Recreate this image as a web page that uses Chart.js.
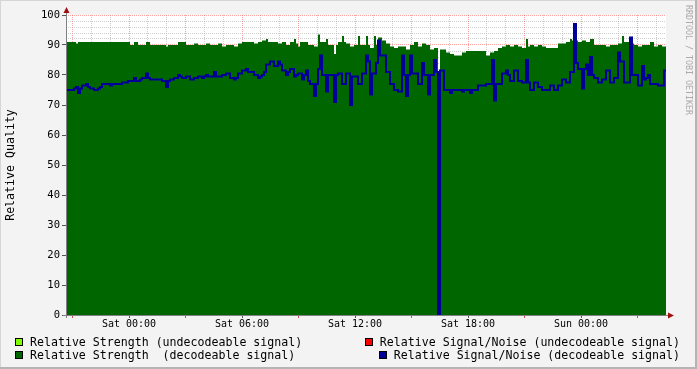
<!DOCTYPE html>
<html>
<head>
<meta charset="utf-8">
<script src="https://cdn.jsdelivr.net/npm/chart.js@4.4.0/dist/chart.umd.min.js"></script>
<style>
body{margin:0;background:#f3f3f3}
#wrap{position:relative;width:697px;height:369px;overflow:hidden}
.leg{position:absolute;display:flex;align-items:center;font:11.6px "DejaVu Sans Mono",monospace;white-space:pre;color:#000;height:14px;line-height:14px}
.sw{display:inline-block;width:6px;height:6px;border:1px solid #000;margin-right:7px}
#credit{position:absolute;left:684px;top:5px;writing-mode:vertical-rl;font:8.3px "DejaVu Sans Mono",monospace;color:#aaa}
</style>
</head>
<body>
<div id="wrap">
  <canvas id="myChart" width="697" height="369"></canvas>
  <div id="credit">RRDTOOL / TOBI OETIKER</div>
  <div class="leg" style="left:15px;top:335px"><span class="sw" style="background:#7fff00"></span>Relative Strength (undecodeable signal)</div>
  <div class="leg" style="left:15px;top:348px"><span class="sw" style="background:#006600"></span>Relative Strength  (decodeable signal)</div>
  <div class="leg" style="right:17px;top:335px"><span class="sw" style="background:#ff0000"></span>Relative Signal/Noise (undecodeable signal)</div>
  <div class="leg" style="right:17px;top:348px"><span class="sw" style="background:#000099"></span>Relative Signal/Noise (decodeable signal)</div>
</div>
<script>
// hours relative to Sat 00:00, one sample every ~6.4 minutes
const startHour = -3.345;
const sampleStep = 0.10619;

// Relative Strength (decodeable signal)
const strength = [
  91, 91, 91, 91, 91, 90.5, 91, 91, 91, 91, 91, 91, 91, 91, 91, 91, 91, 91, 91, 91,
  91, 91, 91, 91, 91, 91, 91, 91, 91, 91, 91, 91, 90, 90, 91, 91, 90, 90, 90, 90,
  91, 91, 90, 90, 90, 90, 90, 90, 90, 90, 89.5, 90, 90, 90, 90, 90, 91, 91, 91, 91,
  90, 90, 90, 90, 90.5, 90.5, 90, 90, 90, 90, 90.5, 90.5, 90, 90, 90, 90, 90.5, 90.5, 89.5, 89.5,
  90, 90, 90, 90, 89.5, 89.5, 90.5, 90.5, 91, 91, 91, 91, 91, 91, 90.5, 90.5, 91, 91, 91.5, 91.5,
  92, 91, 91, 91, 91, 91, 90.5, 90.5, 91, 91, 90, 90, 91, 91, 92, 90.5, 89.5, 91, 91, 91,
  91, 90, 90, 90, 89.5, 89.5, 93.5, 91, 91, 91, 92, 90, 90, 90, 87, 90, 91, 91, 93, 91,
  90.5, 90.5, 89.5, 89.5, 90, 90, 93, 90, 90, 90, 93, 90, 89, 89, 93, 90, 92.5, 92.5, 91.5, 91.5,
  90.5, 90.5, 89.5, 89.5, 89, 89, 89.5, 89.5, 89.5, 89.5, 88.5, 88.5, 90, 90, 91, 91, 89.5, 89.5, 90.5, 90.5,
  90, 90, 88.5, 88.5, 89, 89, 0, 88.5, 88.5, 88.5, 87.5, 87.5, 87, 87, 86.5, 86.5, 86.5, 86.5, 87.5, 87.5,
  88, 88, 88, 88, 88, 88, 88, 88, 88, 88, 86.5, 86.5, 87.5, 87.5, 88, 88, 89, 89, 89.5, 89.5,
  90, 90, 89.5, 89.5, 90, 90, 89.5, 89.5, 89, 89, 92, 89.5, 90, 90, 89.5, 89.5, 90, 90, 89.5, 89.5,
  89, 89, 89, 89, 89, 89, 90.5, 90.5, 90.5, 90.5, 91, 91, 92, 91.5, 91.5, 91.5, 91, 91, 91.5, 91.5,
  91, 91, 92, 92, 90, 90, 90, 90, 90, 90, 89.5, 89.5, 90, 90, 90, 90, 90.5, 90.5, 93, 91,
  91, 91, 90.5, 90.5, 90, 90, 89.5, 89.5, 90, 90, 90, 90, 91, 91, 89.5, 89.5, 90, 90, 89.5, 89.5
];

// Relative Signal/Noise (decodeable signal)
const snr = [
  75, 75, 75, 75, 75.5, 76, 74, 75.5, 76.5, 76.5, 77, 76, 75.5, 75.5, 75, 75, 75.5, 76, 77, 77,
  77, 77, 76.5, 77, 77, 77, 77, 77, 77.5, 77.5, 77.5, 78, 78, 78, 79, 78, 78, 78.5, 79, 79,
  80.5, 79, 78.5, 78.5, 78.5, 78.5, 78.5, 78.5, 78, 78, 76, 78, 78.5, 78.5, 79, 79, 80, 79.5, 79, 79,
  79.5, 79.5, 78.5, 78.5, 79, 79, 79.5, 79.5, 79, 79.5, 80, 79.5, 79.5, 79.5, 81, 79.5, 79.5, 79.5, 80, 80,
  80.5, 80.5, 79, 79, 78.5, 79, 80.5, 80.5, 81.5, 81.5, 82, 81, 81, 81, 80, 80, 79, 79.5, 80, 81,
  83.5, 83.5, 84.5, 84.5, 83, 83, 84.5, 83.5, 81.5, 81.5, 80, 81, 82, 82, 79.5, 80, 80.5, 80.5, 78.5, 80,
  81.5, 78, 77, 77, 73, 77, 82, 86.5, 80, 80, 74.5, 80, 80, 80, 71, 80, 80.5, 80.5, 77, 77,
  80.5, 80.5, 70, 79.5, 79.5, 79.5, 77, 77, 80.5, 80.5, 86.5, 84.5, 73.5, 80.5, 80.5, 84, 91.5, 86.5, 86.5, 86.5,
  81, 81, 77, 77, 75, 75, 74.5, 74.5, 86.5, 80, 73, 80, 86.5, 80.5, 80.5, 80.5, 77, 77, 84, 80,
  80, 73.5, 80, 80, 85, 81, 0, 81.5, 81.5, 75, 75, 75, 74, 75, 75, 75, 75, 75, 74.5, 75,
  75, 75, 74, 75, 75, 75, 76.5, 76.5, 76.5, 76.5, 77, 77, 77, 85, 71.5, 77, 77, 77, 80.5, 80.5,
  81.5, 80, 78, 78, 81.5, 81.5, 78, 78, 77.5, 77.5, 85, 77.5, 75, 75, 77.5, 77.5, 76, 76, 75, 75,
  75, 75, 76.5, 76.5, 75, 75, 76.5, 76.5, 78.5, 78.5, 77.5, 77.5, 81, 81, 97, 84, 82, 82, 75.5, 82,
  83.5, 80, 86, 80, 79, 79, 77.5, 77.5, 78.5, 78.5, 81.5, 81.5, 77.5, 77.5, 79, 79, 87.5, 84.5, 84.5, 77.5,
  77.5, 77.5, 92.5, 80, 80, 80, 76.5, 76.5, 83, 78.5, 79, 80, 77, 77, 77, 77, 76.5, 76.5, 76.5, 81.5
];

const tickHours = [0, 6, 12, 18, 24];
const tickLabels = ['Sat 00:00', 'Sat 06:00', 'Sat 12:00', 'Sat 18:00', 'Sun 00:00'];

const endHour = startHour + strength.length * sampleStep;

function toPoints(values) {
  const pts = values.map((v, i) => ({ x: startHour + i * sampleStep, y: v }));
  pts.push({ x: endHour, y: values[values.length - 1] });
  return pts;
}

const hourTicks = [];
for (let h = Math.ceil(startHour); h <= Math.floor(endHour); h++) hourTicks.push(h);
const yTicks = [];
for (let v = 0; v <= 100; v += 2) yTicks.push(v);

const MONO = 'DejaVu Sans Mono';
const minorGrid = 'rgba(160,160,160,0.5)';
const majorGrid = 'rgba(255,70,70,0.5)';

const framePlugin = {
  id: 'frame',
  beforeDraw(chart) {
    const { ctx, chartArea: a } = chart;
    ctx.save();
    ctx.fillStyle = '#f3f3f3';
    ctx.fillRect(0, 0, chart.width, chart.height);
    ctx.fillStyle = '#ffffff';
    ctx.fillRect(a.left, a.top, a.right - a.left, a.bottom - a.top);
    ctx.fillStyle = '#d6d6d6';
    ctx.fillRect(0, 0, chart.width, 1);
    ctx.fillRect(0, 0, 1, chart.height);
    ctx.fillStyle = '#b4b4b4';
    ctx.fillRect(chart.width - 2, 0, 2, chart.height);
    ctx.fillRect(0, chart.height - 2, chart.width, 2);
    ctx.restore();
  },
  afterDraw(chart) {
    const { ctx, chartArea: a } = chart;
    ctx.save();
    ctx.strokeStyle = '#808080';
    ctx.lineWidth = 1;
    ctx.beginPath();
    ctx.moveTo(a.left + 0.5, a.bottom + 3);
    ctx.lineTo(a.left + 0.5, a.top - 4);
    ctx.moveTo(a.left - 3, a.bottom + 0.5);
    ctx.lineTo(a.right + 4, a.bottom + 0.5);
    ctx.stroke();
    ctx.fillStyle = '#a01010';
    ctx.beginPath();
    ctx.moveTo(a.left + 0.5, a.top - 8);
    ctx.lineTo(a.left - 2.5, a.top - 2);
    ctx.lineTo(a.left + 3.5, a.top - 2);
    ctx.fill();
    ctx.beginPath();
    ctx.moveTo(a.right + 8, a.bottom + 0.5);
    ctx.lineTo(a.right + 2, a.bottom - 2.5);
    ctx.lineTo(a.right + 2, a.bottom + 3.5);
    ctx.fill();
    ctx.restore();
  }
};

const ctx = document.getElementById('myChart').getContext('2d');

const myChart = new Chart(ctx, {
  type: 'line',
  data: {
    datasets: [
      {
        label: 'Relative Signal/Noise (decodeable signal)',
        data: toPoints(snr),
        borderColor: '#000099',
        borderWidth: 2,
        borderJoinStyle: 'miter',
        borderCapStyle: 'butt',
        stepped: true,
        fill: false,
        pointRadius: 0
      },
      {
        label: 'Relative Strength  (decodeable signal)',
        data: toPoints(strength),
        borderColor: 'rgba(0,0,0,0)',
        borderWidth: 0,
        backgroundColor: '#006600',
        stepped: true,
        fill: 'origin',
        pointRadius: 0
      }
    ]
  },
  options: {
    responsive: false,
    devicePixelRatio: 1,
    animation: false,
    layout: { padding: { top: 15, right: 31, left: 0, bottom: 0 } },
    plugins: { legend: { display: false }, tooltip: { enabled: false } },
    scales: {
      x: {
        type: 'linear',
        min: startHour,
        max: endHour,
        z: 1,
        afterBuildTicks: s => { s.ticks = hourTicks.map(v => ({ value: v })); },
        afterFit: s => { s.height = 54; },
        ticks: {
          autoSkip: false,
          maxRotation: 0,
          padding: 0,
          color: '#000',
          font: { family: MONO, size: 10 },
          callback: v => {
            const k = tickHours.indexOf(v);
            return k >= 0 ? tickLabels[k] : '';
          }
        },
        grid: {
          lineWidth: 1,
          tickLength: 3,
          color: c => (c.tick && c.tick.value % 3 === 0) ? majorGrid : minorGrid,
          tickColor: c => {
            if (!c.tick) return 'transparent';
            if (c.tick.value % 6 === 0) return '#555';
            if (c.tick.value % 3 === 0) return '#d05050';
            return 'transparent';
          }
        },
        border: { display: false, dash: [1, 1] }
      },
      y: {
        min: 0,
        max: 100,
        z: 1,
        afterBuildTicks: s => { s.ticks = yTicks.map(v => ({ value: v })); },
        afterFit: s => { s.width = 66; },
        ticks: {
          autoSkip: false,
          padding: 2,
          color: '#000',
          font: { family: MONO, size: 10.5 },
          callback: v => (v % 10 === 0 ? String(v) : '')
        },
        grid: {
          lineWidth: 1,
          tickLength: 4,
          color: c => (c.tick && c.tick.value % 10 === 0) ? majorGrid : minorGrid,
          tickColor: c => (c.tick && c.tick.value % 10 === 0) ? '#555' : 'transparent'
        },
        border: { display: false, dash: [1, 1] },
        title: {
          display: true,
          text: 'Relative Quality',
          color: '#000',
          font: { family: MONO, size: 11.6 },
          padding: { top: 4, bottom: 0 }
        }
      }
    }
  },
  plugins: [framePlugin]
});
</script>
</body>
</html>
